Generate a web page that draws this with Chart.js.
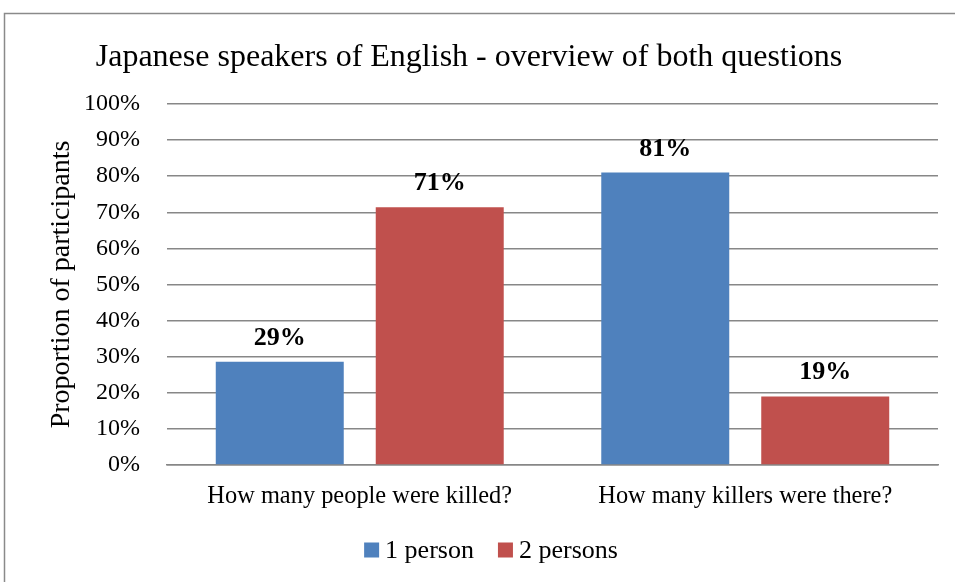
<!DOCTYPE html>
<html>
<head>
<meta charset="utf-8">
<script src="https://cdn.jsdelivr.net/npm/chart.js@4.4.1/dist/chart.umd.min.js"></script>
<style>
html,body{margin:0;padding:0;background:#fff;}
#wrap{width:955px;height:582px;position:relative;}
.pre{font-family:"Liberation Serif";position:absolute;left:-1000px;top:-1000px;}
</style>
</head>
<body>
<span class="pre">a</span><span class="pre" style="font-weight:bold">b</span>
<div id="wrap"><canvas id="c" width="955" height="582"></canvas></div>
<script>
const categories = ["How many people were killed?", "How many killers were there?"];
const seriesNames = ["1 person", "2 persons"];
const onePerson = [28.6, 81.0];
const twoPersons = [71.4, 19.0];
const yTicks = [0, 10, 20, 30, 40, 50, 60, 70, 80, 90, 100];

const FONT = '"Liberation Serif", "Times New Roman", serif';

const borderPlugin = {
  id: 'outerBorder',
  beforeDraw(chart) {
    const ctx = chart.ctx;
    ctx.save();
    ctx.fillStyle = '#fff';
    ctx.fillRect(0, 0, chart.width, chart.height);
    ctx.strokeStyle = '#8a8a8a';
    ctx.lineWidth = 1.5;
    ctx.strokeRect(4.5, 13.5, chart.width + 10, chart.height + 10);
    ctx.restore();
  }
};

const labelPlugin = {
  id: 'valueLabels',
  afterDatasetsDraw(chart) {
    const ctx = chart.ctx;
    ctx.save();
    ctx.font = 'bold 26px ' + FONT;
    ctx.fillStyle = '#000';
    ctx.textAlign = 'center';
    ctx.textBaseline = 'alphabetic';
    chart.data.datasets.forEach((ds, i) => {
      const meta = chart.getDatasetMeta(i);
      meta.data.forEach((el, j) => {
        ctx.fillText(Math.round(ds.data[j]) + '%', el.x, el.y - 17);
      });
    });
    ctx.restore();
  }
};

const legendPlugin = {
  id: 'customLegend',
  afterDraw(chart) {
    const ctx = chart.ctx;
    ctx.save();
    ctx.font = '26px ' + FONT;
    ctx.textBaseline = 'middle';
    ctx.textAlign = 'left';
    const box = 15, gap = 6, itemGap = 24;
    const items = chart.data.datasets.map(ds => ({
      text: ds.label, color: ds.backgroundColor, w: box + gap + ctx.measureText(ds.label).width
    }));
    const total = items.reduce((s, it) => s + it.w, 0) + itemGap * (items.length - 1);
    let x = 491 - total / 2;
    const cy = 550;
    items.forEach(it => {
      ctx.fillStyle = it.color;
      ctx.fillRect(x, cy - box / 2, box, box);
      ctx.fillStyle = '#000';
      ctx.fillText(it.text, x + box + gap, cy + 1);
      x += it.w + itemGap;
    });
    ctx.restore();
  }
};

function draw() {
  new Chart(document.getElementById('c'), {
    type: 'bar',
    data: {
      labels: categories,
      datasets: [
        { label: seriesNames[0], data: onePerson, backgroundColor: '#4F81BD', borderWidth: 0 },
        { label: seriesNames[1], data: twoPersons, backgroundColor: '#C0504D', borderWidth: 0 }
      ]
    },
    options: {
      responsive: false,
      animation: false,
      devicePixelRatio: 1,
      layout: { padding: { left: 0, right: 17, top: 0, bottom: 56 } },
      categoryPercentage: 0.83,
      barPercentage: 0.8,
      plugins: {
        title: {
          display: true,
          text: 'Japanese speakers of English - overview of both questions',
          color: '#000',
          font: { family: FONT, size: 32, weight: 'normal' },
          padding: { top: 38, bottom: 27.6 }
        },
        legend: { display: false },
        tooltip: { enabled: false }
      },
      scales: {
        x: {
          grid: { display: false, drawTicks: false },
          border: { display: true, color: '#878787', width: 1.5 },
          ticks: { color: '#000', font: { family: FONT, size: 24.4 }, padding: 17, maxRotation: 0 },
          afterFit(scale) { scale.height = 61; }
        },
        y: {
          min: 0,
          max: 100,
          afterBuildTicks(scale) { scale.ticks = yTicks.map(v => ({ value: v })); },
          grid: { color: '#878787', lineWidth: 1.5, drawTicks: false },
          border: { display: false },
          ticks: {
            color: '#000',
            font: { family: FONT, size: 24 },
            padding: 27,
            callback: v => v + '%'
          },
          title: {
            display: true,
            text: 'Proportion of participants',
            color: '#000',
            font: { family: FONT, size: 28 },
            padding: { top: 45, bottom: 4 }
          },
          afterFit(scale) { scale.width = 167; }
        }
      }
    },
    plugins: [borderPlugin, labelPlugin, legendPlugin]
  });
}

Promise.all([
  document.fonts.load('24px "Liberation Serif"'),
  document.fonts.load('bold 26px "Liberation Serif"')
]).then(draw, draw);
</script>
</body>
</html>
